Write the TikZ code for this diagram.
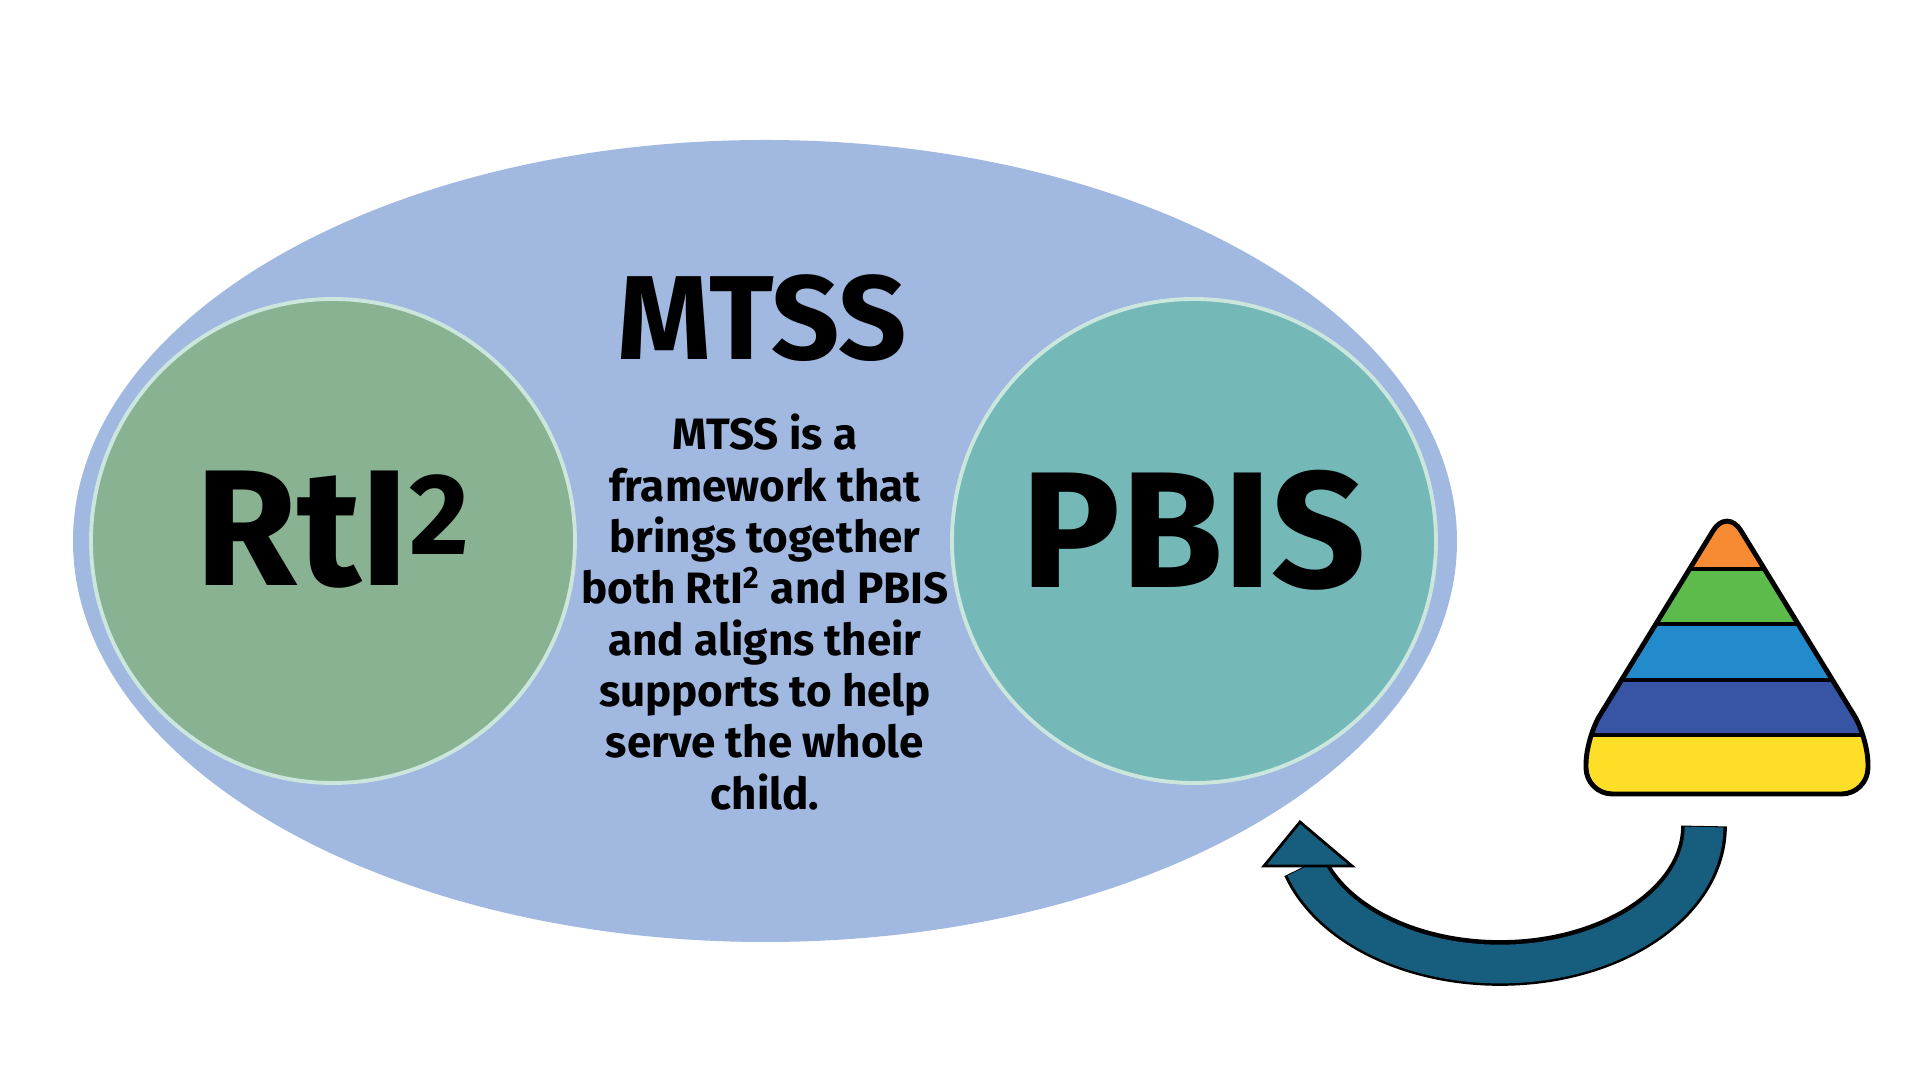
\documentclass[tikz,border=0pt]{standalone}
\usepackage{fontspec}
\setmainfont{Fira Sans}
\usetikzlibrary{positioning}
\definecolor{mtssblue}{HTML}{A1B8E0}
\definecolor{rtigreen}{HTML}{88B291}
\definecolor{pbisteal}{HTML}{74B9B8}
\definecolor{ringcol}{HTML}{CBE6DD}
\definecolor{arrowcol}{HTML}{175E7E}
\definecolor{tierorange}{HTML}{F68B33}
\definecolor{tiergreen}{HTML}{5DBB4B}
\definecolor{tierblue}{HTML}{238BCB}
\definecolor{tiernavy}{HTML}{3854A4}
\definecolor{tieryellow}{HTML}{FFDE27}
\begin{document}
\begin{tikzpicture}[x=0.01cm, y=-0.01cm,
    ring/.style = {draw=ringcol, line width=1.1pt},
   title/.style = {font=\bfseries\fontsize{34}{36}\selectfont},
     big/.style = {font=\bfseries\fontsize{47}{50}\selectfont},
    body/.style = {font=\bfseries\fontsize{12.5}{14.6}\selectfont, align=center},
    tier/.style = {draw=black, line width=1.4pt}
                    ]
\useasboundingbox (0,0) rectangle (1920,1080);
 % frame
\fill[mtssblue] (765,541) ellipse [x radius=692, y radius=401];
\fill[rtigreen, ring] (333,541) circle [radius=242];
\fill[pbisteal, ring] (1194,541) circle [radius=242];
\node (mtss) [title] at (762,318) {MTSS};
\node (rti)  [big] at (333,530) {RtI\textsuperscript{2}};
\node (pbis) [big] at (1194,530) {PBIS};
\node (text) [body] at (765,612) {MTSS is a\\framework that\\brings together\\both RtI\textsuperscript{2} and PBIS\\and aligns their\\supports to help\\serve the whole\\child.};
 % pyramid
\def\pyr{[rounded corners=7.5pt] (1727,508) -- (1586,738) -- (1586,794) -- (1868,794) -- (1868,738) -- cycle}
\begin{scope}
\clip \pyr;
\fill[tierorange] (1550,480) rectangle (1900,569);
\fill[tiergreen]  (1550,569) rectangle (1900,624);
\fill[tierblue]   (1550,624) rectangle (1900,680);
\fill[tiernavy]   (1550,680) rectangle (1900,735);
\fill[tieryellow] (1550,735) rectangle (1900,810);
\foreach \yy in {569,624,680,735}
  \draw[tier] (1550,\yy) -- (1900,\yy);
\end{scope}
\draw[tier] \pyr;
 % arrow
\coordinate (tail) at (1704,826);
\coordinate (tip) at (1300,822);
\draw[black, line width=13pt] (tail) arc [start angle=0, end angle=163, x radius=204, y radius=137];
\draw[arrowcol, line width=11pt] ([yshift=-0.3pt]tail) arc [start angle=0, end angle=163, x radius=204, y radius=137];
\filldraw[arrowcol, draw=black, line width=0.8pt] (tip) -- (1352,866) -- (1264,866) -- cycle;
\end{tikzpicture}
\end{document}
